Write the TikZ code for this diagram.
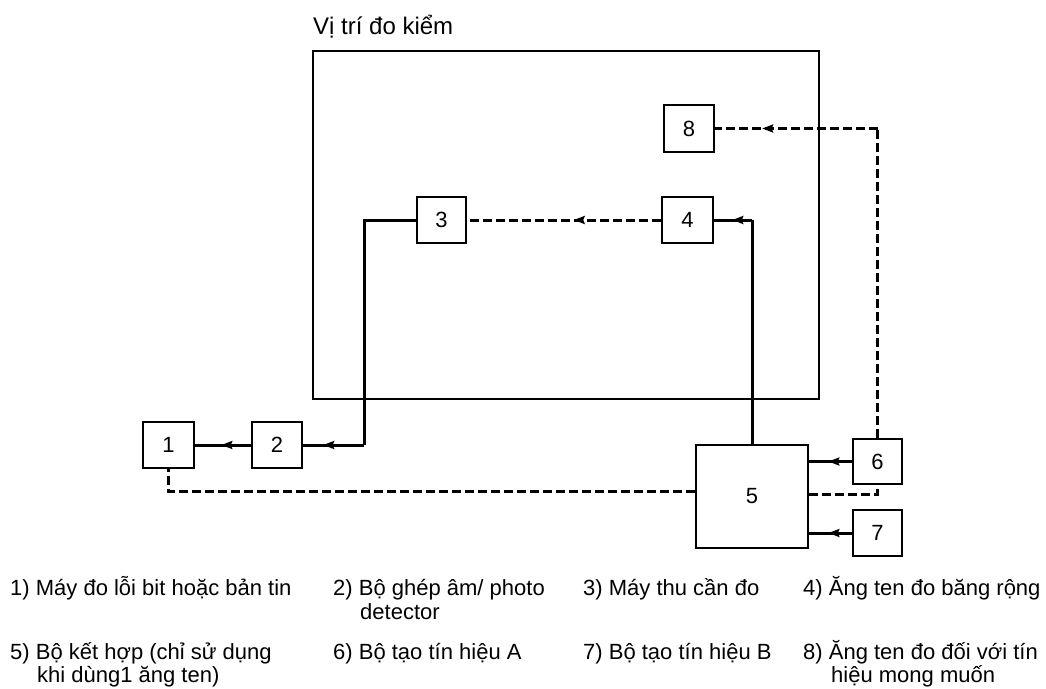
\documentclass[tikz,border=0pt]{standalone}
\usepackage{fontspec}
\setmainfont{Liberation Sans}
\usetikzlibrary{arrows.meta,decorations.markings}
\tikzset{
  box/.style={draw, line width=2pt, minimum width=50pt, minimum height=46pt, inner sep=0pt, font=\fontsize{22}{26}\selectfont},
  room/.style={draw, line width=2.2pt, minimum width=506pt, minimum height=348pt, inner sep=0pt},
  conn/.style={line width=3pt},
  dconn/.style={line width=3pt, dash pattern=on 9pt off 4pt},
  midarrow/.style={postaction={decorate, decoration={markings, mark=at position #1 with {\arrow{Stealth[length=11pt,width=8pt,inset=1.5pt]}}}}},
  legend/.style={anchor=base west, inner sep=0pt, font=\fontsize{22}{26}\selectfont},
  titletext/.style={anchor=base west, inner sep=0pt, font=\fontsize{24}{28}\selectfont}
}
\begin{document}
\begin{tikzpicture}[x=1pt,y=-1pt]
\useasboundingbox[fill=white] (0,0) rectangle (1046,688);
% room
\node[room] (room) at (566,225) {};
\node[titletext] (title) at (313,34) {Vị trí đo kiểm};
% boxes
\node[box, minimum width=51pt] (n1) at (168.5,445) {1};
\node[box] (n2) at (277,445) {2};
\node[box, minimum width=49pt] (n3) at (441.5,220) {3};
\node[box, minimum width=51pt] (n4) at (687.5,220) {4};
\node[box, minimum height=47pt] (n8) at (689,128.5) {8};
\node[box, minimum width=112pt, minimum height=103pt] (n5) at (752,496.5) {5};
\node[box, minimum width=49pt, minimum height=45pt] (n6) at (877.5,461.5) {6};
\node[box, minimum width=49pt] (n7) at (877.5,533) {7};
% coordinates
\coordinate (c3) at (364,220);
\coordinate (c2) at (c3 |- n2.east);
\coordinate (c4) at (n5.north |- n4.east);
\coordinate (c8) at (n6.north |- n8.east);
\coordinate (p5e) at ([yshift=2.5pt]n5.east);
\coordinate (c6s) at (n6.south |- p5e);
\coordinate (p5w) at ([yshift=5.5pt]n5.west);
\coordinate (c1s) at (n1.south |- p5w);
% connectors
\draw[conn] (n3.west) -- (c3) -- (c2);
\draw[conn, midarrow=0.67] (c2) -- (n2.east);
\draw[conn, midarrow=0.53] (n2.west) -- (n1.east);
\draw[dconn, midarrow=0.45] (n4.west) -- (n3.east);
\draw[conn] (n5.north) -- (c4);
\draw[conn, midarrow=0.52] (c4) -- (n4.east);
\draw[dconn] (n6.north) -- (c8);
\draw[dconn, midarrow=0.71] (c8) -- (n8.east);
\draw[conn, midarrow=0.55] (n6.west) -- (n6.west -| n5.east);
\draw[conn, midarrow=0.55] (n7.west) -- (n7.west -| n5.east);
\draw[dconn] (p5e) -- (c6s) -- (n6.south);
\draw[dconn] (p5w) -- (c1s) -- (n1.south);
% legend
\node[legend] (l1) at (10,595) {1) Máy đo lỗi bit hoặc bản tin};
\node[legend] (l2a) at (333,595) {2) Bộ ghép âm/ photo};
\node[legend] (l2b) at (360,619) {detector};
\node[legend] (l3) at (583,595) {3) Máy thu cần đo};
\node[legend] (l4) at (803,595) {4) Ăng ten đo băng rộng};
\node[legend] (l5a) at (10,659) {5) Bộ kết hợp (chỉ sử dụng};
\node[legend] (l5b) at (37,682) {khi dùng1 ăng ten)};
\node[legend] (l6) at (333,659) {6) Bộ tạo tín hiệu A};
\node[legend] (l7) at (583,659) {7) Bộ tạo tín hiệu B};
\node[legend] (l8a) at (803,659) {8) Ăng ten đo đối với tín};
\node[legend] (l8b) at (831,682) {hiệu mong muốn};
\end{tikzpicture}
\end{document}
